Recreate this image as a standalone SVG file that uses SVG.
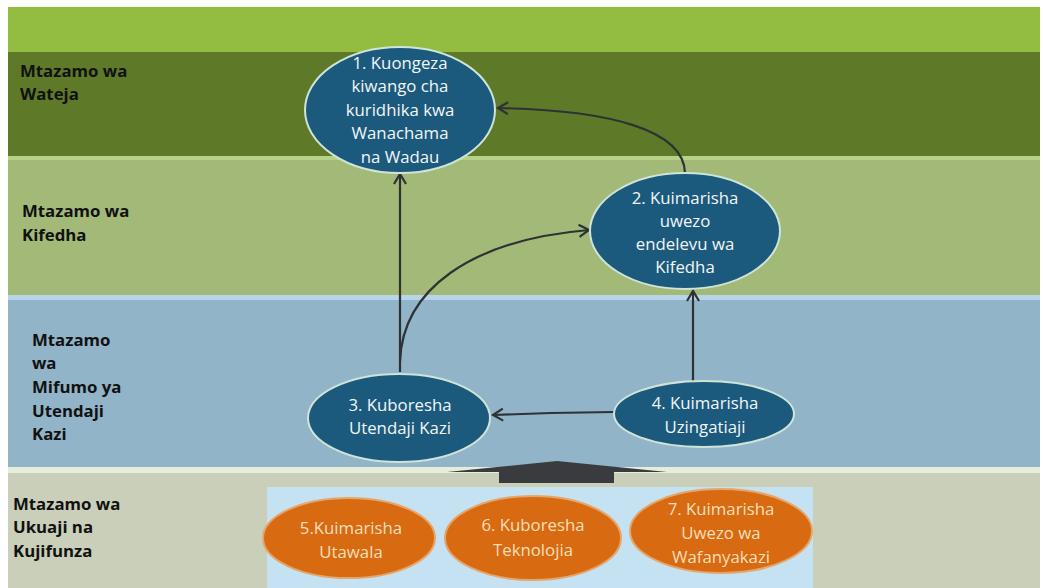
<svg xmlns="http://www.w3.org/2000/svg" width="1043" height="588" viewBox="0 0 1043 588">
<style>
.lbl{font-family:"Open Sans","Liberation Sans",sans-serif;font-weight:bold;font-size:16.8px;fill:#111}
.nt{font-family:"Open Sans","Liberation Sans",sans-serif;font-size:16.8px;fill:#f2f6f6;text-anchor:middle}
.ot{font-family:"Open Sans","Liberation Sans",sans-serif;font-size:16.8px;fill:#f8dfb8;text-anchor:middle}
.bn{fill:#1c5a7d;stroke:#cfe4d8;stroke-width:2}
.on{fill:#d86b12;stroke:#e6a56a;stroke-width:2}
.con{fill:none;stroke:#2f3234;stroke-width:2.2}
</style>
<defs>
<marker id="ah" markerWidth="14" markerHeight="14" refX="11" refY="7" orient="auto" markerUnits="userSpaceOnUse">
<path d="M1,1 L11,7 L1,13" fill="none" stroke="#2f3234" stroke-width="2.2"/>
</marker>
</defs>
<rect width="1043" height="588" fill="#ffffff"/>
<g id="bands">
<rect x="8" y="7" width="1032" height="45" fill="#93bd41"/>
<rect x="8" y="52" width="1032" height="104" fill="#5e7a29"/>
<rect x="8" y="156" width="1032" height="4" fill="#b7d286"/>
<rect x="8" y="160" width="1032" height="135" fill="#a3b978"/>
<rect x="8" y="295" width="1032" height="5" fill="#b6d5ea"/>
<rect x="8" y="300" width="1032" height="167" fill="#92b4c8"/>
<rect x="8" y="467" width="1032" height="6" fill="#e6eedb"/>
<rect x="8" y="473" width="1032" height="115" fill="#c9cfb8"/>
<rect x="267" y="487" width="546" height="101" fill="#c5e2f2"/>
</g>
<g id="labels">
<text class="lbl" x="20" y="77">Mtazamo wa</text>
<text class="lbl" x="20" y="100">Wateja</text>
<text class="lbl" x="22" y="217">Mtazamo wa</text>
<text class="lbl" x="22" y="241">Kifedha</text>
<text class="lbl" x="32" y="346">Mtazamo</text>
<text class="lbl" x="32" y="369">wa</text>
<text class="lbl" x="32" y="393">Mifumo ya</text>
<text class="lbl" x="32" y="417">Utendaji</text>
<text class="lbl" x="32" y="440">Kazi</text>
<text class="lbl" x="13" y="510">Mtazamo wa</text>
<text class="lbl" x="13" y="533">Ukuaji na</text>
<text class="lbl" x="13" y="557">Kujifunza</text>
</g>
<g id="connectors">
<line class="con" x1="400" y1="372" x2="400" y2="174" marker-end="url(#ah)"/>
<path class="con" d="M400 362 C402 290 470 240 589 230" marker-end="url(#ah)"/>
<path class="con" d="M685 173 C684 130 610 110 498 108" marker-end="url(#ah)"/>
<line class="con" x1="693" y1="381" x2="693" y2="291" marker-end="url(#ah)"/>
<path class="con" d="M614 412 L551 413 L493 415" marker-end="url(#ah)"/>
<path id="block" d="M447 472 L557 461 L667 472 L614 472 L614 483 L499 483 L499 472 Z" fill="#3a3b3e"/>
</g>
<g id="n1">
<ellipse class="bn" cx="400" cy="110" rx="95" ry="63"/>
<text class="nt" x="400" y="69">1. Kuongeza</text>
<text class="nt" x="400" y="92">kiwango cha</text>
<text class="nt" x="400" y="116">kuridhika kwa</text>
<text class="nt" x="400" y="139">Wanachama</text>
<text class="nt" x="400" y="163">na Wadau</text>
</g>
<g id="n2">
<ellipse class="bn" cx="685" cy="231" rx="95" ry="58"/>
<text class="nt" x="685" y="204">2. Kuimarisha</text>
<text class="nt" x="685" y="227">uwezo</text>
<text class="nt" x="685" y="250">endelevu wa</text>
<text class="nt" x="685" y="273">Kifedha</text>
</g>
<g id="n3">
<ellipse class="bn" cx="399" cy="418" rx="91" ry="44"/>
<text class="nt" x="400" y="411">3. Kuboresha</text>
<text class="nt" x="400" y="434">Utendaji Kazi</text>
</g>
<g id="n4">
<ellipse class="bn" cx="704" cy="414" rx="90" ry="33"/>
<text class="nt" x="705" y="409">4. Kuimarisha</text>
<text class="nt" x="705" y="433">Uzingatiaji</text>
</g>
<g id="n5">
<ellipse class="on" cx="349" cy="538" rx="86" ry="40"/>
<text class="ot" x="351" y="534">5.Kuimarisha</text>
<text class="ot" x="351" y="558">Utawala</text>
</g>
<g id="n6">
<ellipse class="on" cx="533" cy="538" rx="88" ry="42"/>
<text class="ot" x="533" y="531">6. Kuboresha</text>
<text class="ot" x="533" y="556">Teknolojia</text>
</g>
<g id="n7">
<ellipse class="on" cx="721" cy="531" rx="91" ry="42"/>
<text class="ot" x="721" y="515">7. Kuimarisha</text>
<text class="ot" x="721" y="539">Uwezo wa</text>
<text class="ot" x="721" y="563">Wafanyakazi</text>
</g>
</svg>
